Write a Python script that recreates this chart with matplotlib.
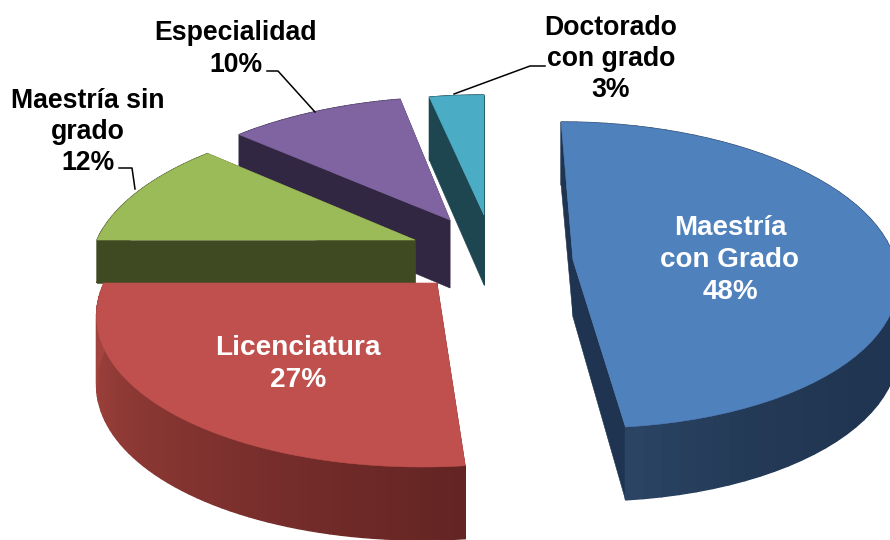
import numpy as np
import matplotlib
matplotlib.use('Agg')
import matplotlib.pyplot as plt
from matplotlib.colors import to_rgb
from matplotlib.patches import Polygon

# Data, clockwise from 12 o'clock
categories = ['Maestría\ncon Grado', 'Licenciatura', 'Maestría sin\ngrado', 'Especialidad', 'Doctorado\ncon grado']
values = [48.3, 26.7, 11.5, 10.2, 3.3]
percent_labels = ['48%', '27%', '12%', '10%', '3%']

# Colours
top_colors = ['#4F81BD', '#C0504D', '#9BBB59', '#8064A2', '#4BACC6']
side_colors = ['#1F3450', '#632423', '#404A22', '#322742', '#1E4650']
rim_end_colors = ['#2B4464', '#A6453F', '#404A22', '#322742', '#1E4650']
rim_power = [8, 1, 1, 1, 1]

# Layout of the exploded 3D pie, in pixels
center_x, center_y = 484, 250
shift_x = [89, -47, -69, -34, 0]
shift_y = [10, 33, -10, -30, -35]
rim_back = [138, 130, 125, 123, 120]
rim_front = [168, 184, 170, 170, 170]
rim_side = [322, 333, 318, 318, 310]
rim_drop = [68, 68, 43, 68, 68]
apex_drop = [57, 68, 43, 68, 70]
draw_order = [4, 3, 2, 1, 0]

# Label positions
label_x = [730, 298, 88, 236, 611]
label_y = [260, 364, 132, 49, 59]
label_color = ['white', 'white', 'black', 'black', 'black']
label_size = [20, 20.2, 19.2, 19.2, 19.2]
label_spacing = [1.28, 1.28, 1.25, 1.25, 1.25]

leader_x = [[267, 278, 315], [119, 132, 135], [454, 530, 545]]
leader_y = [[71, 71, 112], [168, 168, 189], [94, 66, 66]]


def rim_point(i, angle):
    ax = center_x + shift_x[i]
    ay = center_y + shift_y[i]
    b, f = rim_back[i], rim_front[i]
    ry = 2 * b * f / (b + f)
    k = (f - b) / (f + b)
    u, v = np.sin(angle), np.cos(angle)
    w = 1 / (1 + k * v)
    x = ax + rim_side[i] * u * w + 1.5 * (ax - center_x) * (w - 1)
    y = ay - ry * v * w
    return x, y, y + rim_drop[i] - 5 * v


fig = plt.figure(figsize=(8.9, 5.4), dpi=100)
ax = fig.add_axes([0, 0, 1, 1])
ax.set_xlim(0, 890)
ax.set_ylim(540, 0)
ax.axis('off')

edges = np.radians(np.concatenate([[0], np.cumsum(values)]) * 3.6)

for i in draw_order:
    apex_x = center_x + shift_x[i]
    apex_y = center_y + shift_y[i]
    angles = np.linspace(edges[i], edges[i + 1], 60)
    x, y, y_low = rim_point(i, angles)

    # radial walls
    for j in [0, -1]:
        wall = [(apex_x, apex_y), (x[j], y[j]), (x[j], y_low[j]), (apex_x, apex_y + apex_drop[i])]
        ax.add_patch(Polygon(wall, facecolor=side_colors[i], edgecolor=side_colors[i], lw=0.4))

    # outer wall, in thin strips for the shading
    c0 = np.array(to_rgb(side_colors[i]))
    c1 = np.array(to_rgb(rim_end_colors[i]))
    for j in range(len(angles) - 1):
        t = (j / (len(angles) - 2)) ** rim_power[i]
        col = c0 + (c1 - c0) * t
        strip = [(x[j], y[j]), (x[j + 1], y[j + 1]), (x[j + 1], y_low[j + 1]), (x[j], y_low[j])]
        ax.add_patch(Polygon(strip, facecolor=col, edgecolor=col, lw=1.0))

    # top face
    top = [(apex_x, apex_y)] + list(zip(x, y))
    ax.add_patch(Polygon(top, facecolor=top_colors[i], edgecolor=top_colors[i], lw=0.4))

for lx, ly in zip(leader_x, leader_y):
    ax.plot(lx, ly, color='black', lw=1.1)

for i in range(len(categories)):
    ax.text(label_x[i], label_y[i], categories[i] + '\n' + percent_labels[i],
            ha='center', va='center', ma='center', color=label_color[i],
            family='Liberation Sans', weight='bold', fontsize=label_size[i], linespacing=label_spacing[i])

fig.savefig('out.png', dpi=100)
